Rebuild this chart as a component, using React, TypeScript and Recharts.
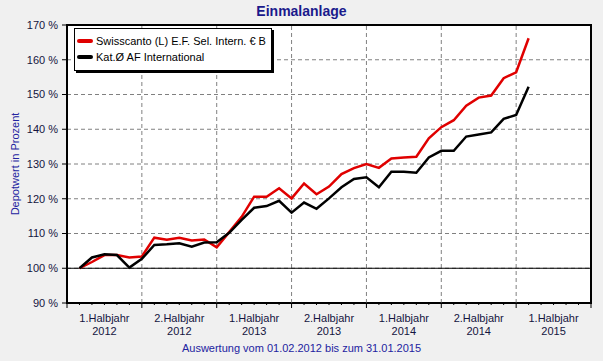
import React from "react"
import {
  LineChart,
  Line,
  XAxis,
  YAxis,
  CartesianGrid,
  ReferenceLine,
  ReferenceArea,
  Legend,
} from "recharts"

// months since 01.01.2012 (1 = Feb 2012 ... 37 = end of Jan 2015)
const months = [
  1, 2, 3, 4, 5, 6, 7, 8, 9, 10, 11, 12, 13, 14, 15, 16, 17, 18, 19, 20, 21, 22, 23, 24, 25, 26,
  27, 28, 29, 30, 31, 32, 33, 34, 35, 36, 37,
]

const swisscanto = [
  100.0, 101.8, 103.8, 103.8, 103.1, 103.4, 108.8, 108.2, 108.8, 108.0, 108.3, 106.0, 110.4, 114.8,
  120.6, 120.6, 123.0, 120.1, 124.4, 121.3, 123.5, 127.1, 128.8, 130.0, 128.9, 131.6, 131.9, 132.1,
  137.4, 140.6, 142.6, 146.8, 149.1, 149.7, 154.7, 156.4, 166.2,
]

const katAvg = [
  100.0, 103.1, 104.0, 103.8, 100.2, 102.7, 106.7, 106.9, 107.2, 106.2, 107.4, 107.5, 110.2, 113.9,
  117.4, 117.9, 119.4, 116.0, 118.9, 117.1, 120.1, 123.3, 125.7, 126.2, 123.3, 127.8, 127.8, 127.5,
  131.9, 133.8, 133.8, 137.9, 138.5, 139.1, 143.0, 144.1, 152.2,
]

const seriesNames = ["Swisscanto (L) E.F. Sel. Intern. € B", "Kat.Ø AF International"]
const halfYearLabels = ["1.Halbjahr", "2.Halbjahr", "1.Halbjahr", "2.Halbjahr", "1.Halbjahr", "2.Halbjahr", "1.Halbjahr"]
const halfYearYears = ["2012", "2012", "2013", "2013", "2014", "2014", "2015"]
const halfYearBounds = [6, 12, 18, 24, 30, 36]
const yTicks = [90, 100, 110, 120, 130, 140, 150, 160, 170]

const data = months.map((m, i) => ({ m, swiss: swisscanto[i], kat: katAvg[i] }))
const monthTicks = Array.from({ length: 43 }, (_, i) => i)

const FONT = '"Liberation Sans", Arial, sans-serif'
const TEXT = "#141440"
const BLUE = "#2323a0"

function MonthTick(props: any) {
  const { x, y, payload } = props
  const v = payload.value as number
  const major = v % 6 === 0
  const idx = (v - 3) / 6
  return (
    <g>
      <line x1={x} y1={y} x2={x} y2={y + (major ? 5 : 2)} stroke="#000" strokeWidth={1} />
      {v % 6 === 3 && (
        <text x={x} textAnchor="middle" fontSize={11} fontFamily={FONT} fill={TEXT}>
          <tspan x={x} y={y + 19}>{halfYearLabels[idx]}</tspan>
          <tspan x={x} y={y + 32}>{halfYearYears[idx]}</tspan>
        </text>
      )}
    </g>
  )
}

function LegendBox(props: any) {
  // keep the series order of the chart, not alphabetical
  const items = [...(props.payload || [])].sort(
    (a: any, b: any) => seriesNames.indexOf(a.value) - seriesNames.indexOf(b.value)
  )
  return (
    <div
      style={{
        background: "#fff",
        border: "1px solid #000",
        boxShadow: "2px 2px 0 #000",
        padding: "4px 5px 5px 2px",
        fontFamily: FONT,
        fontSize: 11,
        color: "#000",
      }}
    >
      {items.map((p: any) => (
        <div key={p.value} style={{ display: "flex", alignItems: "center", height: 16, whiteSpace: "nowrap" }}>
          <span
            style={{
              display: "inline-block",
              width: 16,
              height: 4,
              borderRadius: 2,
              background: p.color,
              marginRight: 3,
            }}
          />
          {p.value}
        </div>
      ))}
    </div>
  )
}

export default function App() {
  return (
    <div
      style={{
        position: "absolute",
        left: 0,
        top: 0,
        width: 603,
        height: 361,
        background: "#f0f0f0",
        fontFamily: FONT,
      }}
    >
      <div
        style={{
          position: "absolute",
          left: 0,
          width: 603,
          top: 3,
          textAlign: "center",
          fontWeight: "bold",
          fontSize: 14,
          color: "#1a1a8c",
        }}
      >
        Einmalanlage
      </div>
      <div
        style={{
          position: "absolute",
          left: 15,
          top: 164,
          transform: "translate(-50%, -50%) rotate(-90deg)",
          whiteSpace: "nowrap",
          fontSize: 11,
          color: BLUE,
        }}
      >
        Depotwert in Prozent
      </div>
      <div
        style={{
          position: "absolute",
          left: 0,
          width: 603,
          top: 342,
          textAlign: "center",
          fontSize: 11,
          color: BLUE,
        }}
      >
        Auswertung vom 01.02.2012 bis zum 31.01.2015
      </div>
      <LineChart width={603} height={361} data={data} margin={{ top: 25, right: 12, bottom: 0, left: 0 }}>
        <CartesianGrid vertical={false} stroke="#808080" strokeDasharray="4 3" fill="#fff" />
        {halfYearBounds.map((b) => (
          <ReferenceLine key={b} x={b} stroke="#808080" strokeDasharray="4 3" />
        ))}
        <ReferenceLine y={100} stroke="#000" strokeWidth={1} />
        <XAxis
          dataKey="m"
          type="number"
          domain={[0, 42]}
          ticks={monthTicks}
          interval={0}
          height={58}
          tickSize={0}
          tickMargin={0}
          tickLine={false}
          axisLine={{ stroke: "#000" }}
          tick={<MonthTick />}
        />
        <YAxis
          type="number"
          domain={[90, 170]}
          ticks={yTicks}
          interval={0}
          width={67}
          tickSize={5}
          tickMargin={4}
          tickLine={{ stroke: "#000" }}
          axisLine={{ stroke: "#000" }}
          tickFormatter={(v: number) => `${v} %`}
          tick={{ fill: TEXT, fontSize: 11, fontFamily: FONT }}
        />
        <ReferenceArea x1={0} x2={42} y1={90} y2={170} fill="none" stroke="#000" strokeWidth={2} />
        <Line
          name={seriesNames[0]}
          type="linear"
          dataKey="swiss"
          stroke="#e00000"
          strokeWidth={2.5}
          dot={false}
          isAnimationActive={false}
        />
        <Line
          name={seriesNames[1]}
          type="linear"
          dataKey="kat"
          stroke="#000"
          strokeWidth={2.5}
          dot={false}
          isAnimationActive={false}
        />
        <Legend
          layout="vertical"
          align="center"
          verticalAlign="middle"
          content={<LegendBox />}
          wrapperStyle={{ left: 74, top: 28, width: "auto" }}
        />
      </LineChart>
    </div>
  )
}
